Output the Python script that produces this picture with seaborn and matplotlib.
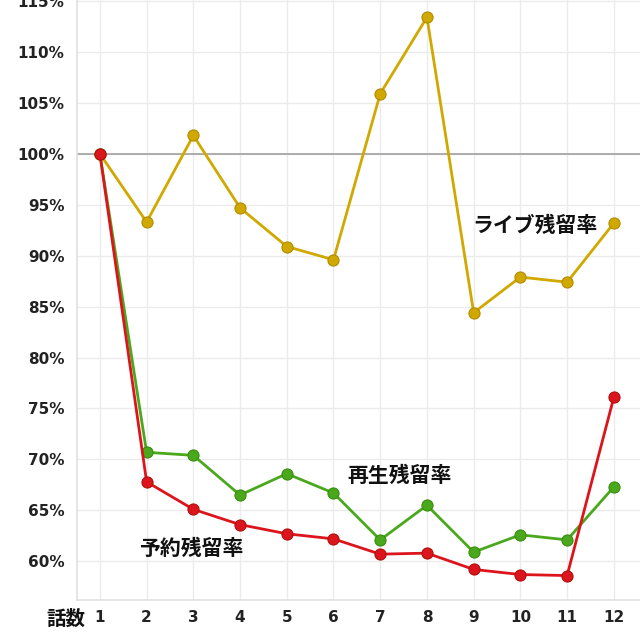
import matplotlib
matplotlib.use("Agg")
import matplotlib.pyplot as plt
import seaborn as sns
import pandas as pd
from matplotlib.ticker import FuncFormatter, MultipleLocator

episodes = [1, 2, 3, 4, 5, 6, 7, 8, 9, 10, 11, 12]
live = [100, 93.3, 101.8, 94.7, 90.9, 89.6, 105.9, 113.4, 84.4, 87.9, 87.4, 93.2]
replay = [100, 70.7, 70.4, 66.5, 68.6, 66.7, 62.1, 65.5, 60.9, 62.6, 62.1, 67.3]
reserve = [100, 67.8, 65.1, 63.6, 62.7, 62.2, 60.7, 60.8, 59.2, 58.7, 58.6, 76.1]
series_names = ["ライブ残留率", "再生残留率", "予約残留率"]
colors = ["#d0a800", "#4aa81c", "#dc141c"]

df = pd.DataFrame({
    "話数": episodes * 3,
    "率": live + replay + reserve,
    "系列": [series_names[0]] * 12 + [series_names[1]] * 12 + [series_names[2]] * 12,
})

sns.set_theme(style="whitegrid")
plt.rcParams["font.family"] = ["DejaVu Sans", "Noto Sans CJK JP"]

fig = plt.figure(figsize=(6.4, 6.4), dpi=100)
ax = fig.add_axes([0.1203, 0.0625, 0.8797, 0.9375])

for i, name in enumerate(series_names):
    sub = df[df["系列"] == name]
    edge = {0: "#b08c00", 1: "#3a8c10", 2: "#b01010"}[i]
    sns.lineplot(data=sub, x="話数", y="率", ax=ax, color=colors[i], lw=2.0,
                 marker="o", markersize=8, markeredgecolor=edge, markeredgewidth=0.8,
                 zorder=3 + i, legend=False)

ax.axhline(100, color="#a0a0a0", lw=1.2, zorder=2)

ax.set_xlim(0.51, 12.56)
ax.set_ylim(56.2, 115.1)
ax.set_xticks(episodes)
ax.yaxis.set_major_locator(MultipleLocator(5))
ax.yaxis.set_major_formatter(FuncFormatter(lambda v, p: f"{v:.0f}%"))
ax.set_xlabel("")
ax.set_ylabel("")
ax.grid(True, color="#ebebeb", lw=1)
for s in ["top", "right"]:
    ax.spines[s].set_visible(False)
for s in ["left", "bottom"]:
    ax.spines[s].set_color("#e0e0e0")
    ax.spines[s].set_linewidth(1.2)
ax.tick_params(axis="both", length=0, labelsize=11, colors="#222222")
ax.tick_params(axis="x", pad=7)
ax.tick_params(axis="y", pad=9)
for lbl in ax.get_xticklabels() + ax.get_yticklabels():
    lbl.set_fontweight("bold")

jp = ["Noto Sans CJK JP", "DejaVu Sans"]
fig.text(66 / 640, 1 - 619 / 640, "話数", family=jp, fontsize=14,
         fontweight="bold", ha="center", va="center", color="#111111")
ax.text(8.97, 93.0, series_names[0], family=jp, fontsize=15, fontweight="bold",
        ha="left", va="center", color="#111111")
ax.text(6.29, 68.4, series_names[1], family=jp, fontsize=15, fontweight="bold",
        ha="left", va="center", color="#111111")
ax.text(1.83, 61.3, series_names[2], family=jp, fontsize=15, fontweight="bold",
        ha="left", va="center", color="#111111")

fig.savefig("out.png", dpi=100)
